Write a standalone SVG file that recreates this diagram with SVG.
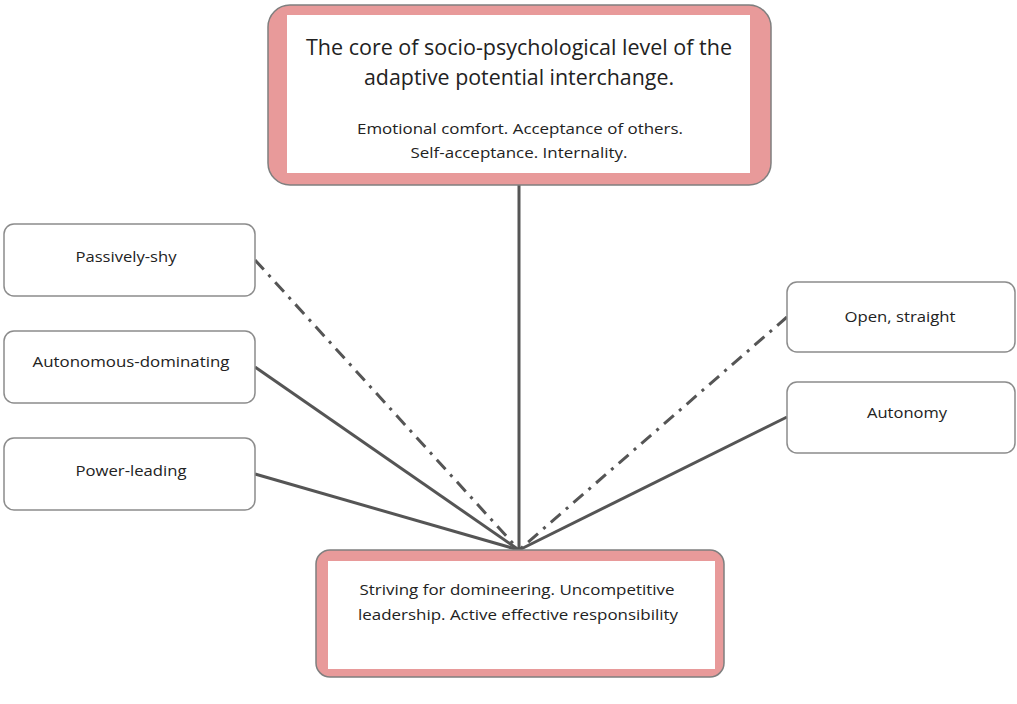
<svg xmlns="http://www.w3.org/2000/svg" width="1017" height="704" viewBox="0 0 1017 704">
<style>
.bg{fill:#ffffff}
.outer{fill:#E89A9A;stroke:#7f7f7f;stroke-width:1.5}
.inner{fill:#ffffff}
.box{fill:#ffffff;stroke:#8c8c8c;stroke-width:1.5}
.t{font-family:"Open Sans","Liberation Sans",sans-serif;fill:#222222;text-anchor:middle}
.big{font-size:21.5px}
.sm{font-size:15px}
.ln{stroke:#555555;stroke-width:3;fill:none;stroke-linecap:butt}
.dd{stroke-dasharray:13 7 3 7}
</style>
<rect class="bg" x="0" y="0" width="1017" height="704"/>
<g id="connectors">
<line class="ln" x1="519" y1="185" x2="519" y2="550"/>
<line class="ln dd" x1="255" y1="260" x2="519" y2="550"/>
<line class="ln" x1="255" y1="367" x2="519" y2="550"/>
<line class="ln" x1="255" y1="474" x2="519" y2="550"/>
<line class="ln dd" x1="787" y1="317" x2="519" y2="550"/>
<line class="ln" x1="787" y1="417" x2="519" y2="550"/>
</g>
<g id="core">
<rect class="outer" x="268" y="5" width="503" height="180" rx="22"/>
<rect class="inner" x="287" y="15" width="463" height="158"/>
<text class="t big" x="519" y="55" textLength="426" lengthAdjust="spacingAndGlyphs">The core of socio-psychological level of the</text>
<text class="t big" x="519" y="85" textLength="310" lengthAdjust="spacingAndGlyphs">adaptive potential interchange.</text>
<text class="t sm" x="520" y="134" textLength="326" lengthAdjust="spacingAndGlyphs">Emotional comfort. Acceptance of others.</text>
<text class="t sm" x="519" y="158" textLength="217" lengthAdjust="spacingAndGlyphs">Self-acceptance. Internality.</text>
</g>
<g id="bottom">
<rect class="outer" x="316" y="550" width="408" height="127" rx="14"/>
<rect class="inner" x="328" y="561" width="387" height="108"/>
<text class="t sm" x="517" y="595" textLength="315" lengthAdjust="spacingAndGlyphs">Striving for domineering. Uncompetitive</text>
<text class="t sm" x="518" y="620" textLength="320" lengthAdjust="spacingAndGlyphs">leadership. Active effective responsibility</text>
</g>
<g id="passively-shy">
<rect class="box" x="4" y="224" width="251" height="72" rx="10"/>
<text class="t sm" x="126" y="262" textLength="101" lengthAdjust="spacingAndGlyphs">Passively-shy</text>
</g>
<g id="autonomous-dominating">
<rect class="box" x="4" y="331" width="251" height="72" rx="10"/>
<text class="t sm" x="131" y="367" textLength="197" lengthAdjust="spacingAndGlyphs">Autonomous-dominating</text>
</g>
<g id="power-leading">
<rect class="box" x="4" y="438" width="251" height="72" rx="10"/>
<text class="t sm" x="131" y="476" textLength="111" lengthAdjust="spacingAndGlyphs">Power-leading</text>
</g>
<g id="open-straight">
<rect class="box" x="787" y="282" width="228" height="70" rx="10"/>
<text class="t sm" x="900" y="322" textLength="111" lengthAdjust="spacingAndGlyphs">Open, straight</text>
</g>
<g id="autonomy">
<rect class="box" x="787" y="382" width="228" height="71" rx="10"/>
<text class="t sm" x="907" y="418" textLength="80" lengthAdjust="spacingAndGlyphs">Autonomy</text>
</g>
</svg>
